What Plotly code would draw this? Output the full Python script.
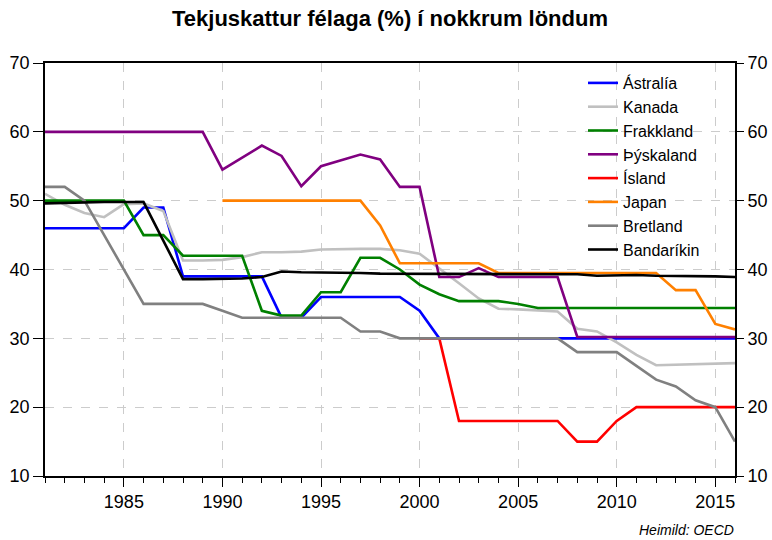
import plotly.graph_objects as go

years = list(range(1981, 2017))

astralia = [46, 46, 46, 46, 46, 49, 49, 39, 39, 39, 39, 39, 33, 33, 36, 36, 36, 36, 36, 34,
            30, 30, 30, 30, 30, 30, 30, 30, 30, 30, 30, 30, 30, 30, 30, 30]
kanada = [51.0, 49.4, 48.2, 47.6, 49.5, 49.6, 48.5, 41.3, 41.3, 41.4, 41.8, 42.5, 42.5, 42.6,
          42.9, 43.0, 43.0, 43.0, 42.8, 42.3, 40.2, 38.0, 35.8, 34.3, 34.2, 34.0, 33.9, 31.4,
          31.0, 29.4, 27.6, 26.1, 26.2, 26.3, 26.4, 26.4]
frakkland = [50, 50, 50, 50, 50, 45, 45, 42, 42, 42, 42, 34, 33.3, 33.3, 36.7, 36.7, 41.7, 41.7,
             40.0, 37.8, 36.4, 35.4, 35.4, 35.4, 35.0, 34.4, 34.4, 34.4, 34.4, 34.4, 34.4, 34.4,
             34.4, 34.4, 34.4, 34.4]
thyskaland = [60, 60, 60, 60, 60, 60, 60, 60, 60, 54.5, 56.3, 58.0, 56.5, 52.1, 55.0, 55.8,
              56.7, 56.0, 52.0, 52.0, 38.9, 38.9, 40.2, 38.9, 38.9, 38.9, 38.9, 30.2, 30.2,
              30.2, 30.2, 30.2, 30.2, 30.2, 30.2, 30.2]
island = [None] * 19 + [30, 30, 18, 18, 18, 18, 18, 18, 15, 15, 18, 20, 20, 20, 20, 20, 20]
japan = [None] * 9 + [50, 50, 50, 50, 50, 50, 50, 50, 46.4, 40.9, 40.9, 40.9, 40.9, 40.9,
                      39.5, 39.5, 39.5, 39.5, 39.5, 39.5, 39.5, 39.5, 39.5, 37.0, 37.0, 32.1, 31.3]
bretland = [52, 52, 50, 45, 40, 35, 35, 35, 35, 34, 33, 33, 33, 33, 33, 33, 31, 31,
            30, 30, 30, 30, 30, 30, 30, 30, 30, 28, 28, 28, 26, 24, 23, 21, 20, 15]
bandarikin = [49.6, 49.7, 49.8, 49.8, 49.8, 49.8, 44.2, 38.6, 38.6, 38.6,
              38.7, 38.9, 39.7, 39.6, 39.6, 39.5, 39.5, 39.4, 39.4, 39.3,
              39.3, 39.3, 39.4, 39.3, 39.3, 39.3, 39.3, 39.3, 39.1, 39.2,
              39.2, 39.1, 39.1, 39.0, 39.0, 38.9]

series = [
    ("Ástralía", astralia, "#0000ff"),
    ("Kanada", kanada, "#c0c0c0"),
    ("Frakkland", frakkland, "#008000"),
    ("Þýskaland", thyskaland, "#800080"),
    ("Ísland", island, "#ff0000"),
    ("Japan", japan, "#ff8000"),
    ("Bretland", bretland, "#808080"),
    ("Bandaríkin", bandarikin, "#000000"),
]

FONT = "Liberation Sans, Arial, sans-serif"

fig = go.Figure()
for name, vals, color in series:
    fig.add_trace(
        go.Scatter(
            x=years,
            y=vals,
            mode="lines",
            name=name,
            line=dict(color=color, width=2.6),
        )
    )

# falin ferill svo hægri ásinn birtist
fig.add_trace(
    go.Scatter(
        x=years,
        y=bandarikin,
        yaxis="y2",
        mode="lines",
        opacity=0,
        showlegend=False,
        hoverinfo="skip",
    )
)

fig.update_layout(
    width=772,
    height=540,
    paper_bgcolor="white",
    plot_bgcolor="white",
    font=dict(family=FONT, size=18, color="black"),
    margin=dict(l=45, r=37, t=63, b=64, autoexpand=False),
    title=dict(
        text="<b>Tekjuskattur félaga (%) í nokkrum löndum</b>",
        x=0.5,
        xref="paper",
        y=1 - 18 / 540,
        yanchor="middle",
        font=dict(family=FONT, size=22, color="black"),
    ),
    xaxis=dict(
        range=[1981, 2016],
        tick0=1985,
        dtick=5,
        ticks="outside",
        ticklen=9,
        tickcolor="black",
        showline=True,
        linecolor="black",
        linewidth=1.5,
        mirror=True,
        showgrid=True,
        gridcolor="#cccccc",
        griddash="dash",
        zeroline=False,
        automargin=False,
        minor=dict(dtick=1, tick0=1981, ticks="outside", ticklen=5, tickcolor="black", showgrid=False),
    ),
    yaxis=dict(
        range=[10, 70],
        dtick=10,
        ticks="outside",
        ticklen=10,
        tickcolor="black",
        showline=True,
        linecolor="black",
        linewidth=1.5,
        mirror=True,
        showgrid=True,
        gridcolor="#cccccc",
        griddash="dash",
        zeroline=False,
        automargin=False,
    ),
    yaxis2=dict(
        range=[10, 70],
        dtick=10,
        overlaying="y",
        side="right",
        ticks="outside",
        ticklen=8,
        tickcolor="black",
        showgrid=False,
        zeroline=False,
        showline=False,
        automargin=False,
    ),
    legend=dict(
        x=(583 - 45) / 690,
        y=(476 - 66) / 413,
        xanchor="left",
        yanchor="top",
        bgcolor="rgba(0,0,0,0)",
        font=dict(family=FONT, size=16, color="black"),
        tracegroupgap=0,
    ),
    showlegend=True,
)

fig.add_annotation(
    text="<i>Heimild: OECD</i>",
    xref="paper",
    yref="paper",
    x=(736 - 45) / 690,
    y=(476 - 530) / 413,
    xanchor="right",
    yanchor="middle",
    showarrow=False,
    font=dict(family=FONT, size=14, color="black"),
)

fig.write_html(
    "out.html",
    config={"displayModeBar": False},
    post_script="document.body.style.margin='0';",
)
